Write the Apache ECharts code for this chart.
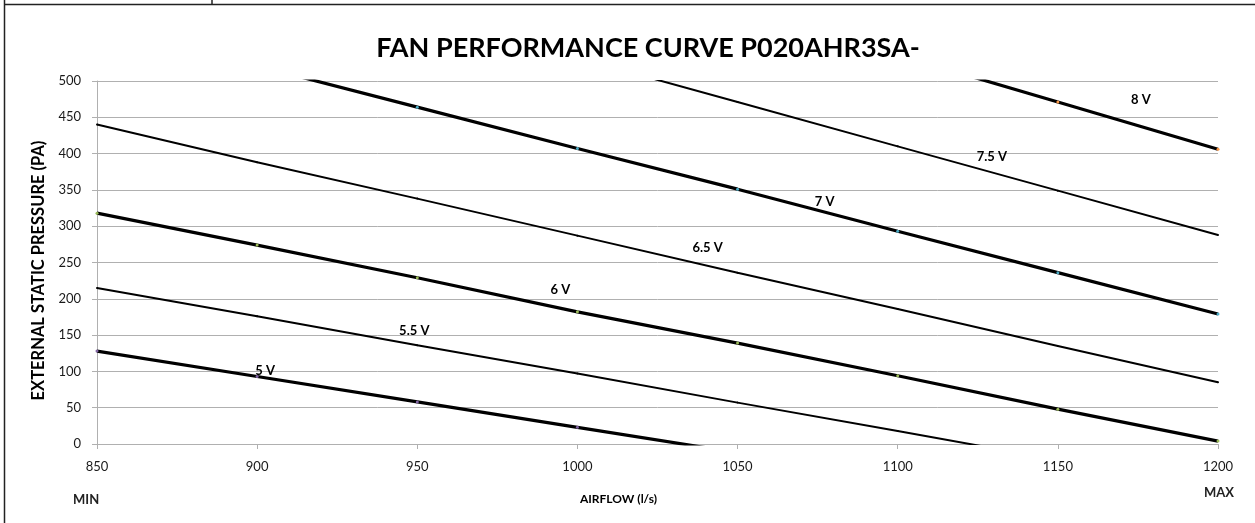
<!DOCTYPE html>
<html>
<head>
<meta charset="utf-8">
<script src="https://cdn.jsdelivr.net/npm/echarts@6/dist/echarts.min.js"></script>
<style>
html,body{margin:0;padding:0;background:#fff;}
#chart{width:1255px;height:523px;}
</style>
</head>
<body>
<div id="chart"></div>
<script>
// Airflow categories (l/s)
const airflow = [850, 900, 950, 1000, 1050, 1100, 1150, 1200];
// External static pressure (Pa) per fan voltage
const v5  = [128, 93, 58, 23, -12, -47, -82, -117];
const v55 = [215, 176, 136, 97, 57, 18, -22, -61];
const v6  = [318, 274, 229, 182, 139, 94, 48, 4];
const v65 = [440, 388, 338, 287, 236, 186, 135, 85];
const v7  = [578, 521, 464, 407, 351, 293, 236, 179];
const v75 = [715, 654, 593, 532, 471, 410, 349, 288];
const v8  = [861, 796, 731, 666, 601, 536, 471, 406];
const seriesNames = ['5 V', '5.5 V', '6 V', '6.5 V', '7 V', '7.5 V', '8 V'];
const seriesValues = [v5, v55, v6, v65, v7, v75, v8];
const yTicks = [0, 50, 100, 150, 200, 250, 300, 350, 400, 450, 500];
const xTicks = airflow;

const FONT = 'Lato, "Open Sans", sans-serif';
// styling (not data)
const thick = [true, false, true, false, true, false, true];
const markerColor = ['#8064A2', '#000', '#9BBB59', '#000', '#4BACC6', '#000', '#F79646'];
const labelIdx = [1, 2, 3, 4, 5, 6, 6];
const labelOff = [[8, -6], [-3, -14], [-17, -22], [-30, -25], [-73, -29], [-66, -34], [83, -2]];

const series = seriesValues.map((vals, s) => ({
  name: seriesNames[s],
  type: 'line',
  clip: true,
  showSymbol: true,
  symbol: 'circle',
  symbolSize: thick[s] ? 3 : 2,
  itemStyle: { color: markerColor[s], borderWidth: 0 },
  lineStyle: { color: '#000', width: thick[s] ? 3.2 : 2 },
  z: thick[s] ? 3 : 2,
  data: vals.map((v, i) => {
    const item = { value: [airflow[i], v] };
    if (i === labelIdx[s]) {
      item.label = {
        show: true, formatter: seriesNames[s], position: 'inside',
        offset: labelOff[s], color: '#000', fontFamily: FONT,
        fontWeight: 'bold', fontSize: 13
      };
    }
    return item;
  })
}));

const chart = echarts.init(document.getElementById('chart'), null, { renderer: 'canvas' });
chart.setOption({
  animation: false,
  backgroundColor: '#fff',
  title: {
    text: 'FAN PERFORMANCE CURVE P020AHR3SA-',
    left: 643, top: 30, textAlign: 'center',
    textStyle: { fontFamily: FONT, fontWeight: 'bold', fontSize: 27, color: '#000' }
  },
  grid: { left: 97, right: 37, top: 81, bottom: 79, containLabel: false },
  xAxis: {
    type: 'value', min: xTicks[0], max: xTicks[xTicks.length - 1], interval: 50,
    name: 'AIRFLOW (l/s)', nameLocation: 'middle', nameGap: 49,
    nameTextStyle: { fontFamily: FONT, fontWeight: 'bold', fontSize: 12, color: '#000', padding: [0, 78, 0, 0] },
    axisLine: { show: true, lineStyle: { color: '#b0b0b0', width: 1 } },
    axisTick: { show: true, length: 5, lineStyle: { color: '#b0b0b0' } },
    axisLabel: { fontFamily: FONT, fontSize: 13, color: '#1a1a1a', margin: 16, formatter: v => String(v) },
    splitLine: { show: false }
  },
  yAxis: {
    type: 'value', min: yTicks[0], max: yTicks[yTicks.length - 1], interval: 50,
    name: 'EXTERNAL STATIC PRESSURE (PA)', nameLocation: 'middle', nameGap: 48,
    nameRotate: 90,
    nameTextStyle: { fontFamily: FONT, fontWeight: 'bold', fontSize: 16.5, color: '#000', padding: [0, 16, 0, 0] },
    axisLine: { show: true, lineStyle: { color: '#b0b0b0', width: 1 } },
    axisTick: { show: true, length: 5, lineStyle: { color: '#b0b0b0' } },
    axisLabel: { fontFamily: FONT, fontSize: 13, color: '#1a1a1a', margin: 16, formatter: v => String(v) },
    splitLine: { show: true, lineStyle: { color: '#b0b0b0', width: 1 } }
  },
  graphic: [
    { type: 'line', shape: { x1: 4.5, y1: 0, x2: 4.5, y2: 523 }, style: { stroke: '#222', lineWidth: 1.5 } },
    { type: 'line', shape: { x1: 4, y1: 4.5, x2: 1255, y2: 4.5 }, style: { stroke: '#222', lineWidth: 1.5 } },
    { type: 'line', shape: { x1: 212, y1: 0, x2: 212, y2: 4.5 }, style: { stroke: '#222', lineWidth: 1.5 } },
    { type: 'text', left: 73, top: 493, style: { text: 'MIN', font: 'bold 13px ' + FONT, fill: '#222' } },
    { type: 'text', left: 1204, top: 486, style: { text: 'MAX', font: 'bold 13px ' + FONT, fill: '#222' } }
  ],
  series: series
});
</script>
</body>
</html>
